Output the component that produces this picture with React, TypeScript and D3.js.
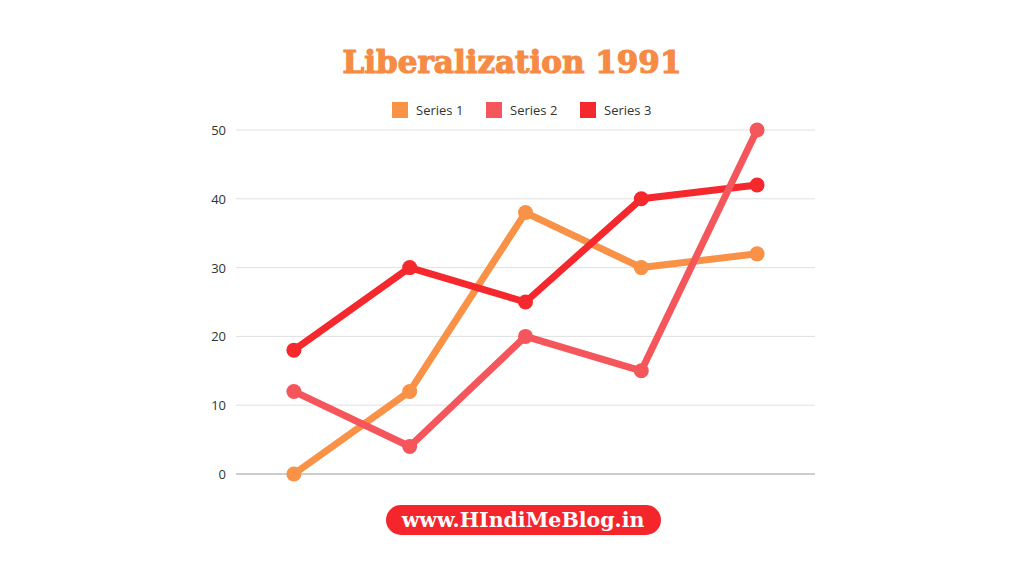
import React from "react";
import * as d3 from "d3";

const categories = ["A", "B", "C", "D", "E"];
const series1 = [0, 12, 38, 30, 32];
const series2 = [12, 4, 20, 15, 50];
const series3 = [18, 30, 25, 40, 42];
const yTicks = [0, 10, 20, 30, 40, 50];
const seriesNames = ["Series 1", "Series 2", "Series 3"];
const seriesColors = ["#F99146", "#F5565B", "#F5282E"];

export default function App() {
  const W = 1024, H = 576;
  const x = d3.scalePoint<string>().domain(categories).range([236, 815]).padding(0.5);
  const y = d3.scaleLinear().domain([0, 50]).range([474, 130]);
  const line = d3.line<number>().x((_, i) => x(categories[i]) as number).y((d) => y(d));
  const all = [series1, series2, series3];
  const drawOrder = [0, 2, 1];
  const legendX = [392, 486, 580];

  return (
    <svg width={W} height={H} style={{ position: "absolute", left: 0, top: 0, background: "#fff" }}>
      <rect width={W} height={H} fill="#fff" />
      <text x={512} y={73} textAnchor="middle" fontFamily="'DejaVu Serif', serif" fontWeight="bold" fontSize={31} fill="#F68B45" stroke="#F68B45" strokeWidth={1.2}>
        Liberalization 1991
      </text>
      {seriesNames.map((n, i) => (
        <g key={n}>
          <rect x={legendX[i]} y={102} width={16} height={16} fill={seriesColors[i]} />
          <text x={legendX[i] + 24} y={115} fontFamily="'Open Sans', 'Noto Sans', sans-serif" fontSize={13} fill="#333">
            {n}
          </text>
        </g>
      ))}
      {yTicks.map((t) => (
        <g key={t}>
          <line x1={236} x2={815} y1={y(t)} y2={y(t)} stroke={t === 0 ? "#bdbdbd" : "#e0e0e0"} strokeWidth={t === 0 ? 1.5 : 1} />
          <text x={226} y={y(t) + 5} textAnchor="end" fontFamily="'Open Sans', 'Noto Sans', sans-serif" fontSize={13} fill="#333">
            {t}
          </text>
        </g>
      ))}
      {drawOrder.map((si) => (
        <g key={si}>
          <path d={line(all[si]) || ""} fill="none" stroke={seriesColors[si]} strokeWidth={7} strokeLinejoin="round" strokeLinecap="round" />
          {all[si].map((v, i) => (
            <circle key={i} cx={x(categories[i]) as number} cy={y(v)} r={7.5} fill={seriesColors[si]} />
          ))}
        </g>
      ))}
      <rect x={386} y={505} width={275} height={30} rx={15} fill="#F4262C" />
      <text x={523} y={527} textAnchor="middle" fontFamily="'DejaVu Serif', serif" fontWeight="bold" fontSize={20.5} fill="#fff">
        www.HIndiMeBlog.in
      </text>
    </svg>
  );
}
